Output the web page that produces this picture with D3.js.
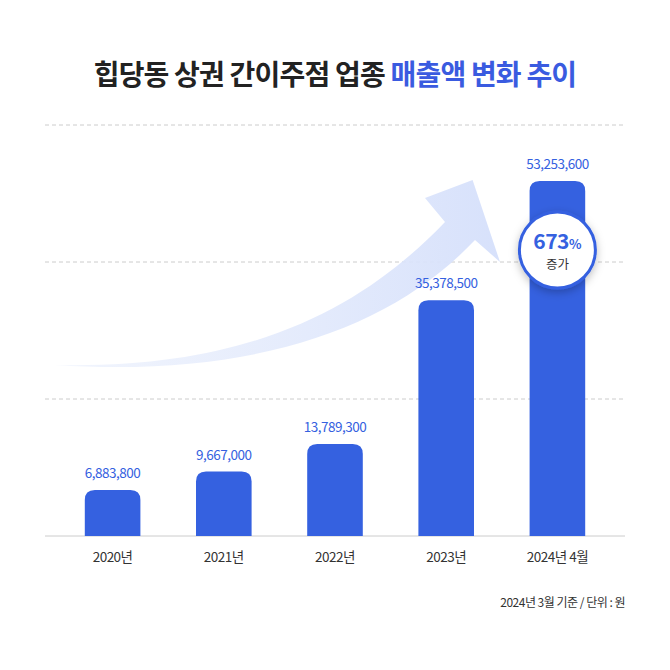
<!DOCTYPE html><html><head><meta charset="utf-8">
<script src="https://cdn.jsdelivr.net/npm/d3@7"></script>
<style>body{margin:0;background:#fff}</style></head><body>
<script>
const categories=["2020년","2021년","2022년","2023년","2024년 4월"];
const values=[6883800,9667000,13789300,35378500,53253600];
const gridTicks=[0,20550000,41100000,61650000];
const titleParts=["힙당동 상권 간이주점 업종 ","매출액 변화 추이"];
const badgeLabels=["673","%","증가"];
const footnote="2024년 3월 기준 / 단위 : 원";

const W=670,H=670,blue="#3561e0",font="'Noto Sans CJK KR','Noto Sans',sans-serif";
const svg=d3.select("body").append("svg").attr("width",W).attr("height",H).style("font-family",font);
const x=d3.scaleBand().domain(categories).range([57,613]).paddingInner(0.5).paddingOuter(0.25);
const y=d3.scaleLinear().domain([0,61650000]).range([536,125]);

const t=svg.append("text").attr("x",W/2).attr("y",85).attr("text-anchor","middle").attr("font-size",28).attr("font-weight",700).attr("letter-spacing",-0.8);
t.append("tspan").attr("fill","#222").text(titleParts[0]);
t.append("tspan").attr("fill","#3a5be0").text(titleParts[1]);

svg.selectAll(".g").data(gridTicks.slice(1)).join("line").attr("x1",45).attr("x2",625)
 .attr("y1",d=>y(d)).attr("y2",d=>y(d)).attr("stroke","#ccc").attr("stroke-dasharray","4,3");
svg.append("line").attr("x1",45).attr("x2",625).attr("y1",y(0)).attr("y2",y(0)).attr("stroke","#ccc");

const ax0=x(categories[0])-30, ax1=x(categories[4])-57;
const defs=svg.append("defs");
const lg=defs.append("linearGradient").attr("id","ag").attr("x1","0").attr("x2","1");
lg.append("stop").attr("offset","0").attr("stop-color","#e8eefc").attr("stop-opacity",0.6);
lg.append("stop").attr("offset","1").attr("stop-color","#d7e1fb");
const p=d3.path();
p.moveTo(ax0,365);
p.bezierCurveTo(260,370,370,300,445,222);
p.lineTo(425,198);p.lineTo(ax1,180);p.lineTo(500,262);p.lineTo(475,240);
p.bezierCurveTo(390,330,250,378,ax0,365);
svg.append("path").attr("d",p.toString()).attr("fill","url(#ag)");

const r=10;
svg.selectAll(".bar").data(values).join("path").attr("fill",blue).attr("d",(v,i)=>{
 const x0=x(categories[i]),w=x.bandwidth(),y0=y(v),yb=y(0);
 return `M${x0},${yb}V${y0+r}Q${x0},${y0} ${x0+r},${y0}H${x0+w-r}Q${x0+w},${y0} ${x0+w},${y0+r}V${yb}Z`;});
svg.selectAll(".vl").data(values).join("text").attr("x",(v,i)=>x(categories[i])+x.bandwidth()/2)
 .attr("y",v=>y(v)-12).attr("text-anchor","middle").attr("fill",blue).attr("font-size",13.5).attr("letter-spacing",-0.5).text(d3.format(","));
svg.selectAll(".cl").data(categories).join("text").attr("x",d=>x(d)+x.bandwidth()/2).attr("y",562)
 .attr("text-anchor","middle").attr("fill","#333").attr("font-size",13.5).attr("letter-spacing",-0.5).text(d=>d);

const f=defs.append("filter").attr("id","sh").attr("x","-50%").attr("y","-50%").attr("width","200%").attr("height","200%");
f.append("feDropShadow").attr("dx",0).attr("dy",3).attr("stdDeviation",4).attr("flood-color","#000").attr("flood-opacity",0.25);
const cx=x(categories[4])+x.bandwidth()/2, cy=y(values[4])+69;
svg.append("circle").attr("cx",cx).attr("cy",cy).attr("r",38).attr("fill","#fff").attr("stroke",blue).attr("stroke-width",3).attr("filter","url(#sh)");
const bt=svg.append("text").attr("x",cx).attr("y",cy-1).attr("text-anchor","middle").attr("fill",blue).attr("font-weight",700);
bt.append("tspan").attr("font-size",21).attr("letter-spacing",-0.5).text(badgeLabels[0]);
bt.append("tspan").attr("font-size",13).text(badgeLabels[1]);
svg.append("text").attr("x",cx).attr("y",cy+19).attr("text-anchor","middle").attr("fill","#333").attr("font-size",12.5).text(badgeLabels[2]);

svg.append("text").attr("x",625).attr("y",607).attr("text-anchor","end").attr("fill","#333").attr("font-size",12).attr("letter-spacing",-0.5).text(footnote);
</script></body></html>
